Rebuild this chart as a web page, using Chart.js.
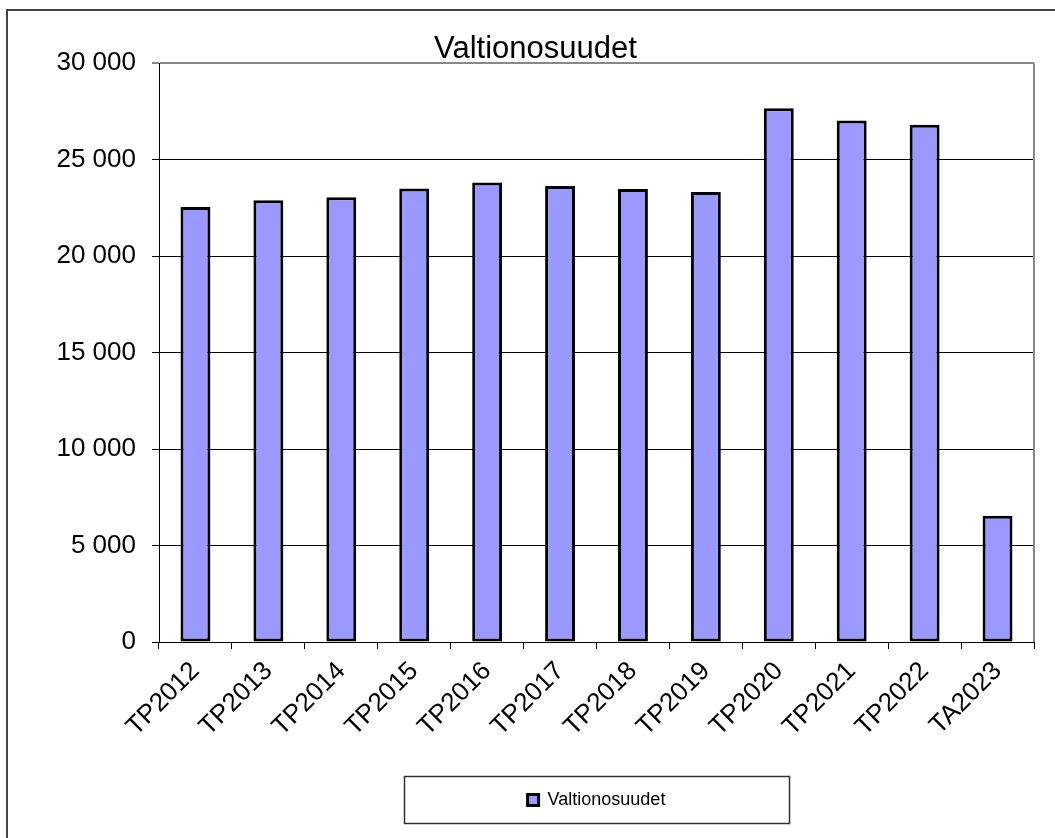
<!DOCTYPE html>
<html>
<head>
<meta charset="utf-8">
<title>Valtionosuudet</title>
<script src="https://cdn.jsdelivr.net/npm/chart.js@4/dist/chart.umd.min.js"></script>
<style>
  html, body { margin: 0; padding: 0; background: #fff; }
  canvas { display: block; }
</style>
</head>
<body>
<canvas id="canvas-vos" width="1055" height="838"></canvas>
<script>
// data
const categories = ['TP2012', 'TP2013', 'TP2014', 'TP2015', 'TP2016', 'TP2017',
                    'TP2018', 'TP2019', 'TP2020', 'TP2021', 'TP2022', 'TA2023'];
const valtionosuudet = [22540, 22890, 23050, 23500, 23810, 23630,
                        23480, 23320, 27660, 27020, 26800, 6540];
const seriesName = 'Valtionosuudet';
const chartTitle = 'Valtionosuudet';
const yMin = 0;
const yMax = 30000;
const yStep = 5000;

const fontFamily = "'Liberation Sans', Arial, sans-serif";

// 30000 -> "30 000"
const formatThousands = (v) => String(v).replace(/\B(?=(\d{3})+(?!\d))/g, ' ');

// white background, outer frame, grey plot border and the box round the legend
const framePlugin = {
    id: 'frames',
    afterLayout(chart) {
        // title sits a bit right of the canvas centre in the original
        if (chart.titleBlock) chart.titleBlock.left += 37;
    },
    beforeDraw(chart) {
        const c = chart.ctx;
        c.save();
        c.fillStyle = '#fff';
        c.fillRect(0, 0, chart.width, chart.height);
        c.restore();
    },
    afterDraw(chart) {
        const c = chart.ctx;
        const area = chart.chartArea;
        c.save();
        // outer frame (only top and left are inside the picture)
        c.strokeStyle = '#444';
        c.lineWidth = 2;
        c.strokeRect(7, 10, chart.width + 20, chart.height + 20);
        // plot area right border
        c.strokeStyle = '#888';
        c.lineWidth = 2;
        c.beginPath();
        c.moveTo(area.right, area.top);
        c.lineTo(area.right, area.bottom);
        c.stroke();
        // legend frame
        const hb = chart.legend.legendHitBoxes[0];
        if (hb) {
            const cx = hb.left + hb.width / 2;
            const cy = hb.top + hb.height / 2;
            c.strokeStyle = '#333';
            c.lineWidth = 1.5;
            c.strokeRect(Math.round(cx - 192.5) + 0.5, Math.round(cy - 24) + 0.5, 385, 47);
        }
        c.restore();
    }
};

const vos = () => {
const ctx = document.getElementById('canvas-vos').getContext('2d');
const myChart = new Chart(ctx, {
    type: 'bar',
    data: {
        labels: categories,
        datasets: [{
            label: seriesName,
            data: valtionosuudet,
            backgroundColor: '#9999ff',
            borderColor: '#000',
            borderWidth: 3,
            borderSkipped: false,
            barPercentage: 0.41,
            categoryPercentage: 1.0
        }]
    },
    options: {
        responsive: false,
        animation: false,
        devicePixelRatio: 1,
        layout: {
            padding: { top: 0, right: 21, bottom: 19, left: 0 }
        },
        plugins: {
            title: {
                display: true,
                text: chartTitle,
                color: '#000',
                font: { family: fontFamily, size: 31, weight: 'normal', lineHeight: 1.1 },
                padding: { top: 32, bottom: -3 }
            },
            legend: {
                position: 'bottom',
                fullSize: false,
                labels: {
                    color: '#000',
                    font: { family: fontFamily, size: 18 },
                    boxWidth: 11,
                    boxHeight: 11,
                    padding: 8
                }
            },
            tooltip: { enabled: false }
        },
        scales: {
            x: {
                afterFit: (s) => { s.height = 141; },
                grid: {
                    offset: true,
                    drawOnChartArea: false,
                    drawTicks: true,
                    tickLength: 7,
                    color: '#000'
                },
                border: { color: '#000', width: 1 },
                ticks: {
                    color: '#000',
                    font: { family: fontFamily, size: 26 },
                    minRotation: 45,
                    maxRotation: 45,
                    autoSkip: false,
                    padding: 7
                }
            },
            y: {
                min: yMin,
                max: yMax,
                afterFit: (s) => { s.width = 159; },
                grid: {
                    color: (c) => (c.tick && c.tick.value === yMax ? '#888' : '#000'),
                    lineWidth: (c) => (c.tick && c.tick.value === yMax ? 2 : 1),
                    tickLength: 7
                },
                border: { color: '#000', width: 1 },
                ticks: {
                    stepSize: yStep,
                    color: '#000',
                    font: { family: fontFamily, size: 26 },
                    padding: 16,
                    callback: (v) => formatThousands(v)
                }
            }
        }
    },
    plugins: [framePlugin]
});
}

vos()
</script>
</body>
</html>
